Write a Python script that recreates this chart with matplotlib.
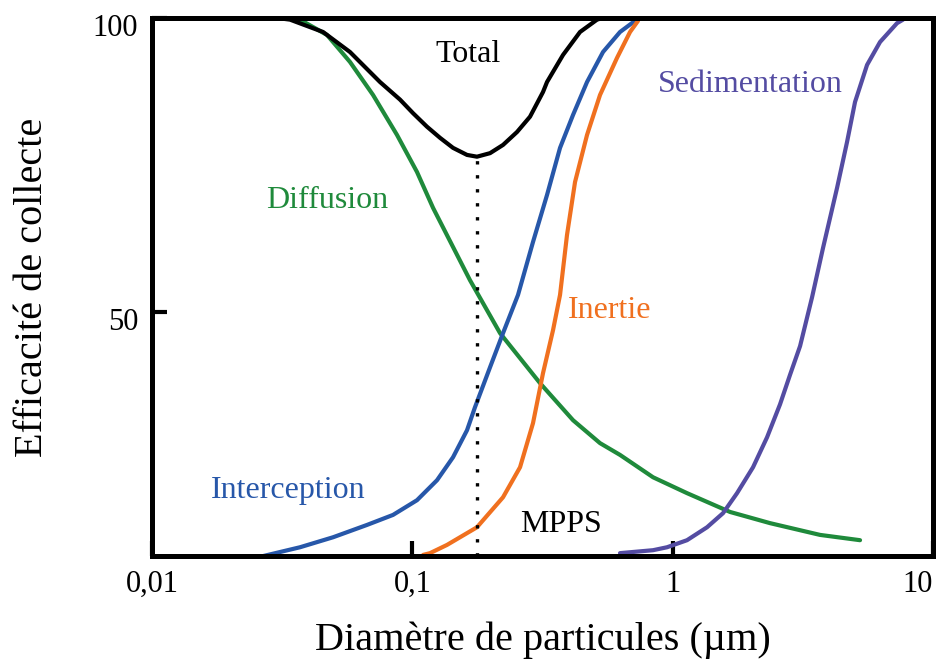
import matplotlib
matplotlib.use('Agg')
import matplotlib.pyplot as plt
import matplotlib.transforms as mtransforms

# font close to the serif used in the figure
plt.rcParams['font.family'] = ['Liberation Serif', 'DejaVu Serif']

# particle diameter (um) / efficiency (%)
diff_x = [0.030, 0.03702, 0.04701, 0.05762, 0.07062, 0.08731, 0.1042, 0.1201,
          0.1665, 0.2172, 0.3093, 0.4142, 0.5259, 0.6276, 0.8404, 1.135, 1.661,
          2.365, 3.681, 5.243]
diff_y = [100, 99.7, 97.1, 92.5, 86.9, 80.1, 73.8, 67.7,
          55.4, 46.4, 37.9, 31.6, 27.7, 25.7, 21.9, 19.2, 16.0,
          14.1, 12.1, 11.2]

total_x = [0.030, 0.0339, 0.0454, 0.0576, 0.0751, 0.0897, 0.1006, 0.1138, 0.1278,
           0.1433, 0.1622, 0.1771, 0.1988, 0.2230, 0.2524, 0.2831, 0.3176, 0.3291,
           0.3791, 0.4406, 0.5122, 0.540]
total_y = [100, 99.7, 97.6, 94.2, 89.1, 86.1, 83.8, 81.5, 79.6,
           77.9, 76.7, 76.4, 77.0, 78.4, 80.6, 83.2, 87.4, 89.1,
           93.7, 97.6, 99.7, 100]

inter_x = [0.0267, 0.03702, 0.0496, 0.0670, 0.0843, 0.1042, 0.1244, 0.1433, 0.1622,
           0.1740, 0.1988, 0.2230, 0.2546, 0.2907, 0.3291, 0.3692, 0.4142, 0.4688,
           0.5400, 0.6276, 0.7167]
inter_y = [8.5, 10.0, 11.7, 13.8, 15.5, 18.0, 21.4, 25.3, 29.9,
           33.8, 40.6, 46.4, 52.9, 61.9, 69.9, 77.9, 83.5, 89.1,
           94.2, 97.6, 99.5]

inert_x = [0.110, 0.1169, 0.1359, 0.1771, 0.2230, 0.2592, 0.2907, 0.3176, 0.3470,
           0.3692, 0.3927, 0.4216, 0.4688, 0.5259, 0.6111, 0.6857, 0.7361]
inert_y = [8.7, 9.0, 10.4, 13.4, 18.5, 23.6, 31.1, 39.6, 46.9,
           52.9, 63.1, 72.1, 80.1, 86.9, 93.2, 97.6, 99.5]

sedi_x = [0.6276, 0.8404, 0.9510, 1.135, 1.355, 1.561, 1.767, 2.035, 2.304,
          2.584, 2.822, 3.085, 3.430, 3.780, 4.279, 4.674, 5.016, 5.579,
          6.258, 7.273, 7.670]
sedi_y = [9.0, 9.5, 10.0, 11.2, 13.4, 15.8, 19.2, 23.6, 28.7,
          34.3, 39.3, 44.2, 52.5, 60.9, 71.1, 78.9, 85.7, 92.0,
          95.9, 99.1, 99.7]

mpps = 0.1771
mpps_eff = 76.4

xticks = [0.01, 0.1, 1, 10]
xticklabels = ['0,01', '0,1', '1', '10']
yticks = [50, 100]
yticklabels = ['50', '100']

green = '#1f8a3b'
blue = '#2757a9'
orange = '#f0701f'
purple = '#544ca2'

fig = plt.figure(figsize=(9.4, 6.62), dpi=100)
ax = fig.add_axes([0.1617, 0.160, 0.8309, 0.813])

style = dict(lw=3, solid_joinstyle='round', solid_capstyle='round')
ax.plot(diff_x, diff_y, color=green, **style)
ax.plot(total_x, total_y, color='black', **style)
ax.plot(inter_x, inter_y, color=blue, **style)
ax.plot(inert_x, inert_y, color=orange, **style)
ax.plot(sedi_x, sedi_y, color=purple, **style)
# MPPS marker line
ax.plot([mpps, mpps], [8.5, mpps_eff], color='black', lw=2.4,
        linestyle=(0, (1, 3.2)), dash_capstyle='butt')

# curve labels
ax.text(0.1637, 93.8, 'Total', color='black', fontsize=23, ha='center', va='center')
ax.text(0.0470, 68.9, 'Diffusion', color=green, fontsize=23, ha='center', va='center')
ax.text(1.982, 88.6, 'Sedimentation', color=purple, fontsize=23, ha='center', va='center')
ax.text(0.5744, 50.3, 'Inertie', color=orange, fontsize=23, ha='center', va='center')
ax.text(0.0333, 19.7, 'Interception', color=blue, fontsize=23, ha='center', va='center')
ax.text(0.3725, 13.8, 'MPPS', color='black', fontsize=23, ha='center', va='center')

ax.set_xscale('log')
ax.set_xlim(0.01, 10)
ax.set_ylim(8.5, 100)
ax.minorticks_off()
ax.set_xticks(xticks)
ax.set_xticklabels(xticklabels)
ax.set_yticks(yticks)
ax.set_yticklabels(yticklabels)
ax.tick_params(direction='in', length=11, width=3, labelsize=22, pad=10)
ax.get_xticklabels()[-1].set_ha('right')
# y labels sit a little below their ticks in the original
shift = mtransforms.ScaledTranslation(0, -0.07, fig.dpi_scale_trans)
for lab in ax.get_yticklabels():
    lab.set_transform(lab.get_transform() + shift)

for s in ax.spines.values():
    s.set_linewidth(3.6)

ax.set_xlabel('Diamètre de particules (µm)', fontsize=29, labelpad=16)
ax.set_ylabel('Efficacité de collecte', fontsize=29, labelpad=30)

fig.savefig('out.png', dpi=100)
